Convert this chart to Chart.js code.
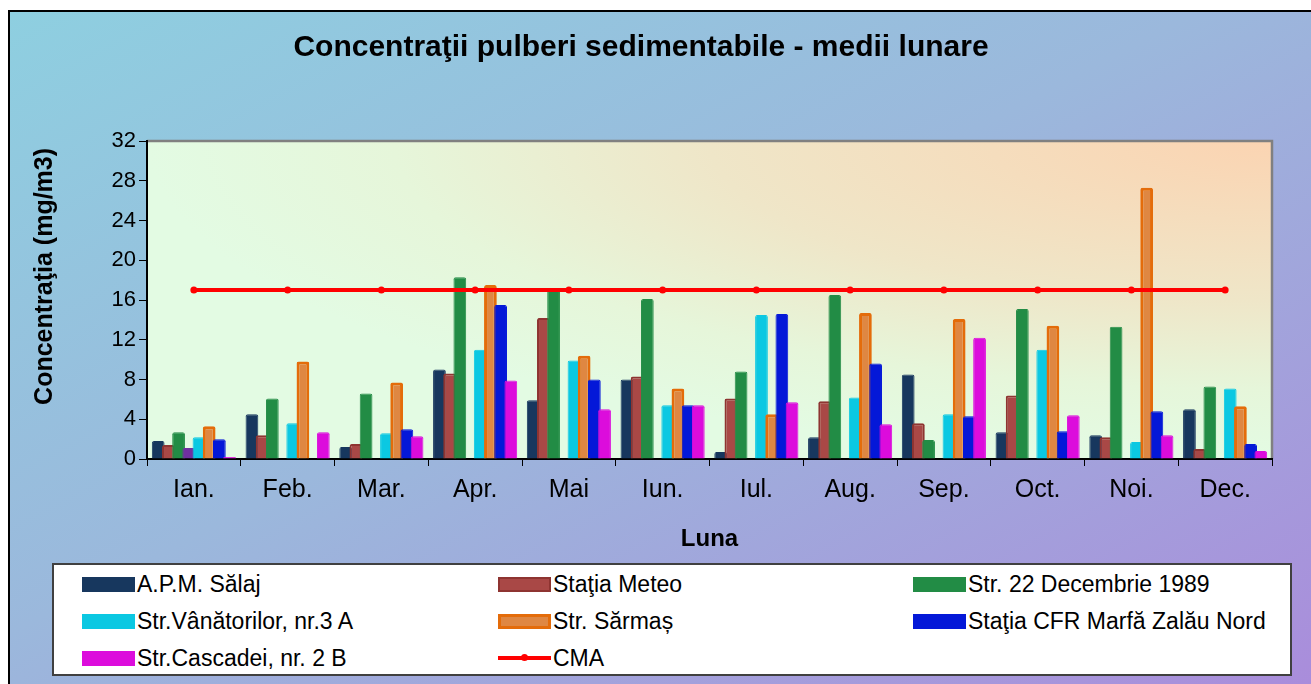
<!DOCTYPE html>
<html><head><meta charset="utf-8">
<script src="https://cdn.jsdelivr.net/npm/chart.js@4.4.1/dist/chart.umd.min.js"></script>
<style>
html,body{margin:0;padding:0;width:1311px;height:684px;overflow:hidden;background:#fff;}
#frame{position:absolute;left:8px;top:10px;width:1320px;height:690px;border-left:2px solid #000;border-top:2px solid #000;background:linear-gradient(to bottom right,#8ecfe0 0%,#9bb8dc 45%,#aa8bdb 100%);}
#wrap{position:absolute;left:0;top:0;width:1311px;height:684px;}
#legend{position:absolute;left:52px;top:563px;width:1236px;height:109px;background:#fff;border:2px solid #404040;font-family:"Liberation Sans",Arial,sans-serif;font-size:23px;color:#000;}
.item{position:absolute;display:flex;align-items:center;height:24px;white-space:nowrap;}
.sw{width:53px;height:15px;margin-right:2px;box-sizing:border-box;position:relative;}
</style>
</head><body>
<div id="frame"></div>
<div id="wrap"><canvas id="c" width="1311" height="684"></canvas></div>
<div id="legend"></div>
<script>
const categories = ["Ian.","Feb.","Mar.","Apr.","Mai","Iun.","Iul.","Aug.","Sep.","Oct.","Noi.","Dec."];
const apmSalaj     = [1.8, 4.5, 1.2, 9.0, 5.9, 8.0, 0.7, 2.2, 8.5, 2.7, 2.4, 5.0];
const statiaMeteo  = [1.4, 2.4, 1.5, 8.6, 14.2, 8.3, 6.1, 5.8, 3.6, 6.4, 2.2, 1.0];
const str22Dec     = [2.7, 6.1, 6.6, 18.3, 17.0, 16.1, 8.8, 16.5, 1.9, 15.1, 13.3, 7.3];
const unlabeled    = [1.1, null, null, null, null, null, null, null, null, null, null, null];
const vanatorilor  = [2.2, 3.6, 2.6, 11.0, 9.9, 5.4, 14.5, 6.2, 4.5, 11.0, 1.7, 7.1];
const sarmas       = [3.3, 9.8, 7.7, 17.5, 10.4, 7.1, 4.5, 14.7, 14.1, 13.4, 27.3, 5.3];
const cfrMarfa     = [2.0, null, 3.0, 15.5, 8.0, 5.4, 14.6, 9.6, 4.3, 2.8, 4.8, 1.5];
const cascadei     = [0.2, 2.7, 2.3, 7.9, 5.0, 5.4, 5.7, 3.5, 12.2, 4.4, 2.4, 0.8];
const cma          = [17, 17, 17, 17, 17, 17, 17, 17, 17, 17, 17, 17];
const yTicks = [0, 4, 8, 12, 16, 20, 24, 28, 32];

const seriesNames = ["A.P.M. Sălaj","Staţia Meteo","Str. 22 Decembrie 1989","","Str.Vânătorilor, nr.3 A","Str. Sărmaș","Staţia CFR Marfă Zalău Nord","Str.Cascadei, nr. 2 B"];
const seriesData = [apmSalaj, statiaMeteo, str22Dec, unlabeled, vanatorilor, sarmas, cfrMarfa, cascadei];
const fills   = ["#17375e","#a94846","#228c45","#7030a0","#0bc8e2","#df8742","#0418d8","#dc0cdc"];
const borders = ["#17375e","#8e3431","#228c45","#7030a0","#0bc8e2","#e46c0a","#0418d8","#dc0cdc"];
const bws     = [1, 2, 1, 1, 1, 3, 1, 1];

const FONT = '"Liberation Sans", Arial, sans-serif';

const datasets = seriesData.map((d, i) => ({
  type: 'bar',
  label: seriesNames[i],
  data: d,
  backgroundColor: fills[i],
  borderColor: borders[i],
  borderWidth: bws[i],
  borderRadius: 2,
  borderSkipped: 'start',
  categoryPercentage: 0.87,
  barPercentage: 1.25,
  order: 1
}));
datasets.push({
  type: 'line', label: 'CMA', data: cma,
  borderColor: '#ff0000', backgroundColor: '#ff0000', borderWidth: 4,
  pointRadius: 3.5, pointBorderWidth: 0, pointBackgroundColor: '#ff0000',
  tension: 0, order: 0
});

const bgPlugin = {
  id: 'plotBg',
  beforeDraw(chart) {
    const {ctx, chartArea: {left, top, right, bottom}} = chart;
    const w = right - left, h = bottom - top;
    ctx.save();
    ctx.beginPath(); ctx.rect(left, top, w, h); ctx.clip();
    ctx.translate(right, top);
    ctx.scale(w, h);
    const g = ctx.createRadialGradient(0, 0, 0, 0, 0, 1);
    g.addColorStop(0, '#fbd4b2');
    g.addColorStop(0.5, '#efe6c8');
    g.addColorStop(0.78, '#e6f6da');
    g.addColorStop(1, '#e3fbe3');
    ctx.fillStyle = g;
    ctx.fillRect(-1, 0, 1, 1);
    ctx.restore();
    ctx.save();
    ctx.strokeStyle = '#808080'; ctx.lineWidth = 2.5;
    ctx.beginPath(); ctx.moveTo(left, top); ctx.lineTo(right, top); ctx.lineTo(right, bottom); ctx.stroke();
    ctx.restore();
  },
  // draw bars in series order (later series on top), then the CMA line last
  beforeDatasetsDraw(chart) {
    const metas = chart.getSortedVisibleDatasetMetas();
    const bars = metas.filter(m => m.type === 'bar').sort((a, b) => a.index - b.index);
    const lines = metas.filter(m => m.type !== 'bar');
    bars.forEach(m => m.controller.draw());
    lines.forEach(m => m.controller.draw());
    return false;
  }
};

new Chart(document.getElementById('c'), {
  type: 'bar',
  data: { labels: categories, datasets },
  options: {
    responsive: false, animation: false, devicePixelRatio: 1,
    layout: { padding: { left: 10, right: 39, top: 10, bottom: 130 } },
    plugins: {
      legend: { display: false },
      tooltip: { enabled: false },
      title: {
        display: true, text: 'Concentraţii pulberi sedimentabile - medii lunare', color: '#000',
        font: { family: FONT, size: 30, weight: 'bold' }, padding: { top: 20, bottom: 75 }
      }
    },
    scales: {
      x: {
        grid: { display: true, drawOnChartArea: false, drawTicks: true, tickLength: 7, color: '#000', offset: true },
        border: { display: true, color: '#000', width: 2 },
        ticks: { color: '#000', font: { family: FONT, size: 25 }, padding: 9, maxRotation: 0, autoSkip: false },
        title: { display: true, text: 'Luna', color: '#000', font: { family: FONT, size: 24, weight: 'bold' }, padding: { top: 0, bottom: 0 } },
        afterFit(s) { s.height = 95; }
      },
      y: {
        min: 0, max: 32,
        afterBuildTicks(s) { s.ticks = yTicks.map(v => ({ value: v })); },
        grid: { drawOnChartArea: false, tickLength: 8, color: '#000' },
        border: { color: '#000', width: 2 },
        ticks: { color: '#000', font: { family: FONT, size: 22 }, padding: 3 },
        title: { display: true, text: 'Concentraţia (mg/m3) ', align: 'end', color: '#000', font: { family: FONT, size: 25, weight: 'bold' }, padding: { top: 20, bottom: 0 } },
        afterFit(s) { s.width = 137; }
      }
    }
  },
  plugins: [bgPlugin]
});

// HTML legend, built from the series arrays
const legend = document.getElementById('legend');
const legendOrder = [0, 1, 2, 4, 5, 6, 7, 'cma'];
const colX = [28, 444, 859];
const rowY = [7, 44, 81];
legendOrder.forEach((k, idx) => {
  const it = document.createElement('div');
  it.className = 'item';
  it.style.left = colX[idx % 3] + 'px';
  it.style.top = rowY[Math.floor(idx / 3)] + 'px';
  const sw = document.createElement('div');
  sw.className = 'sw';
  if (k === 'cma') {
    sw.innerHTML = '<div style="position:absolute;left:0;right:0;top:5px;height:4px;background:#ff0000"></div><div style="position:absolute;left:23px;top:3px;width:7px;height:7px;border-radius:50%;background:#ff0000"></div>';
  } else {
    sw.style.background = fills[k];
    sw.style.border = bws[k] > 1 ? (bws[k] + 'px solid ' + borders[k]) : 'none';
  }
  const tx = document.createElement('span');
  tx.textContent = k === 'cma' ? 'CMA' : seriesNames[k];
  it.appendChild(sw); it.appendChild(tx);
  legend.appendChild(it);
});
</script>
</body></html>
